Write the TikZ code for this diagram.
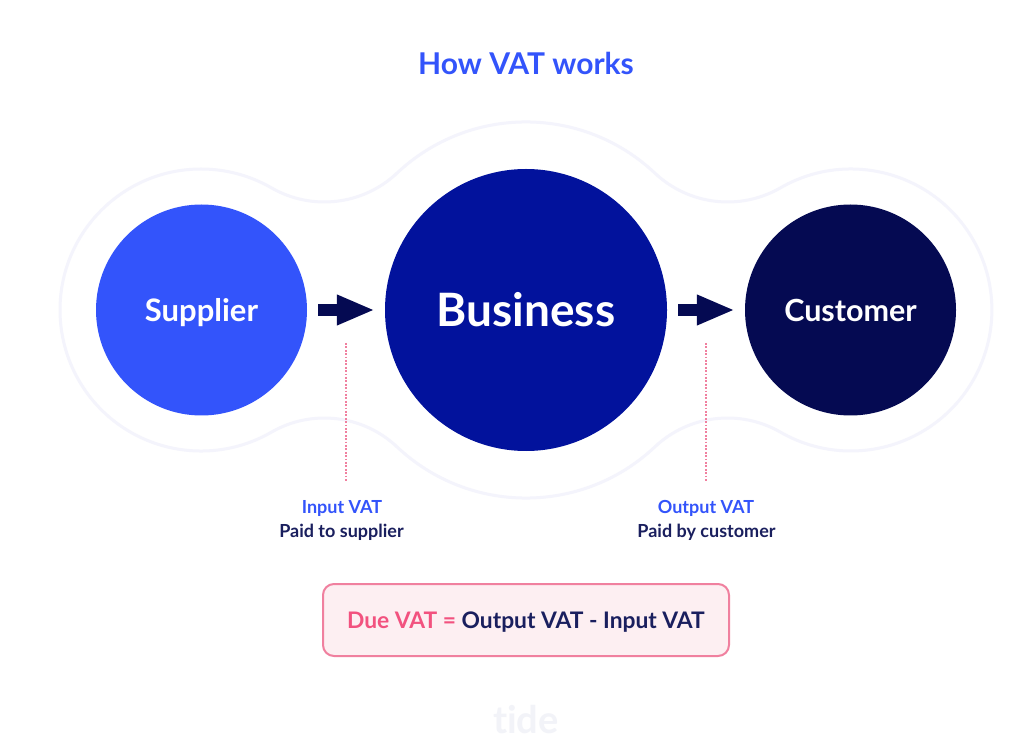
\documentclass[tikz,border=0pt]{standalone}
\usepackage{fontspec}
\setmainfont{Lato}[Ligatures=NoCommon]
\usetikzlibrary{arrows.meta}
\definecolor{blueA}{HTML}{3354FB}
\definecolor{blueB}{HTML}{02129C}
\definecolor{navy}{HTML}{050A52}
\definecolor{ink}{HTML}{1A1F5E}
\definecolor{halo}{HTML}{F4F4FC}
\definecolor{pinkL}{HTML}{F0809F}
\definecolor{pinkT}{HTML}{F2527F}
\definecolor{pinkF}{HTML}{FDEFF2}
\definecolor{logo}{HTML}{F2F3F8}
\tikzset{
  disc/.style={circle,inner sep=0pt,text=white,font=\bfseries},
  flow/.style={navy,line width=12pt,-{Triangle[length=38pt,width=28pt]},shorten <=11pt,shorten >=10pt},
  guide/.style={pinkL,line width=1.8pt,dash pattern=on 1.8pt off 1.6pt},
  lab/.style={inner sep=0pt,font=\bfseries\fontsize{18}{22}\selectfont},
}
\begin{document}
\begin{tikzpicture}[x=1pt,y=1pt]
\useasboundingbox (0,0) rectangle (1024,750);
\fill[white] (0,0) rectangle (1024,750);
% halo outline
\draw[halo,line width=3pt] (60,440)
  arc[start angle=180,end angle=60.05,radius=141pt]
  arc[start angle=240.05,end angle=313.3,radius=106pt]
  arc[start angle=133.3,end angle=46.7,radius=188pt]
  arc[start angle=226.7,end angle=299.95,radius=106pt]
  arc[start angle=119.95,end angle=-119.95,radius=141pt]
  arc[start angle=60.05,end angle=133.3,radius=106pt]
  arc[start angle=-46.7,end angle=-133.3,radius=188pt]
  arc[start angle=46.7,end angle=119.95,radius=106pt]
  arc[start angle=-60.05,end angle=-180,radius=141pt]
  -- cycle;
\node[inner sep=0pt,text=blueA,font=\bfseries\fontsize{30}{36}\selectfont] (title) at (526,687) {How VAT works};
\node[disc,fill=blueA,minimum size=211pt,text height=28pt,text depth=4pt,font=\bfseries\fontsize{31}{36}\selectfont] (supplier) at (201.5,440) {Supplier};
\node[disc,fill=blueB,minimum size=282pt,font=\bfseries\fontsize{46}{52}\selectfont] (business) at (526,440) {Business};
\node[disc,fill=navy,minimum size=211pt,text height=28pt,text depth=4pt,font=\bfseries\fontsize{30.5}{36}\selectfont] (customer) at (850.5,440) {Customer};
\draw[flow] (supplier.east) -- (business.west);
\draw[flow] (business.east) -- (customer.west);
\coordinate (g1a) at (346,407);
\coordinate (g1b) at (346,269);
\coordinate (g2a) at (706,407);
\coordinate (g2b) at (706,269);
\draw[guide] (g1a) -- (g1b);
\draw[guide] (g2a) -- (g2b);
\node[lab,text=blueA] (inv) at (342,242) {Input VAT};
\node[lab,text=ink] (inp) at (341.5,218) {Paid to supplier};
\node[lab,text=blueA] (outv) at (706,242) {Output VAT};
\node[lab,text=ink] (outp) at (706.5,218) {Paid by customer};
\node[draw=pinkL,fill=pinkF,line width=2pt,rounded corners=11pt,minimum width=406pt,minimum height=72pt,inner sep=0pt,text height=20pt,text depth=4pt,font=\bfseries\fontsize{22.8}{26}\selectfont,text=ink] (due) at (526,130) {\textcolor{pinkT}{Due VAT =} Output VAT - Input VAT};
\node[inner sep=0pt,text=logo,font=\bfseries\fontsize{38}{44}\selectfont] (tide) at (526,30) {tide};
\end{tikzpicture}
\end{document}
